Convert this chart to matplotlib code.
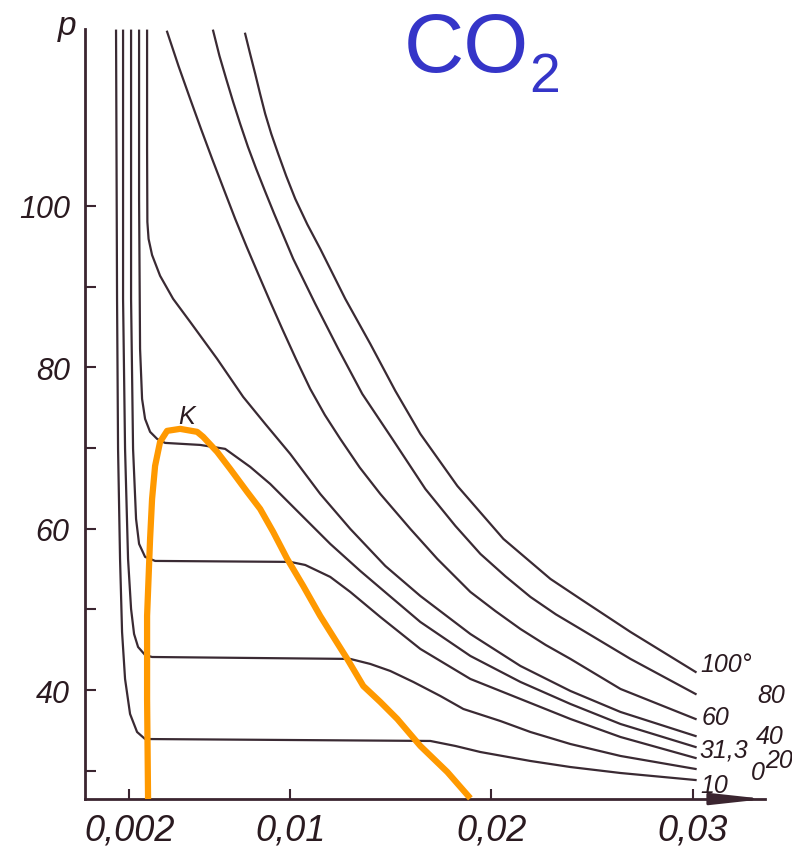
import matplotlib
matplotlib.use("Agg")
import matplotlib.pyplot as plt

# isotherms of CO2, v in units of 1e-3, p in atm
v_0 = [1.343, 1.393, 1.443, 1.542, 1.642, 1.791, 2.040, 2.388, 2.786, 16.965, 18.209, 19.453, 21.940, 23.930, 26.418, 30.149]
p_0 = [121.69, 88.48, 69.89, 56.26, 47.21, 41.39, 37.05, 34.82, 33.95, 33.71, 33.09, 32.34, 31.23, 30.48, 29.74, 28.87]

v_10 = [1.692, 1.692, 1.791, 1.940, 2.090, 2.239, 2.438, 2.786, 3.134, 12.985, 13.980, 14.975, 16.119, 17.463, 18.607, 20.448, 21.940, 23.930, 26.418, 30.149]
p_10 = [121.69, 88.48, 69.89, 56.26, 50.06, 46.96, 45.35, 44.36, 44.11, 43.87, 43.25, 42.38, 41.02, 39.28, 37.67, 36.18, 34.82, 33.33, 31.85, 30.24]

v_20 = [2.090, 2.090, 2.189, 2.338, 2.488, 2.786, 3.284, 10.000, 10.746, 11.990, 12.985, 14.478, 16.468, 18.955, 21.443, 23.930, 26.418, 30.149]
p_20 = [121.69, 88.48, 69.89, 61.21, 58.12, 56.51, 56.01, 55.89, 55.51, 54.03, 52.17, 49.07, 45.11, 41.39, 38.91, 36.43, 34.20, 31.60]

v_31 = [2.488, 2.488, 2.537, 2.637, 2.786, 3.035, 3.383, 3.781, 5.522, 6.766, 8.010, 9.005, 10.498, 11.990, 13.483, 14.826, 16.468, 18.955, 21.443, 23.930, 26.418, 30.149]
p_31 = [121.69, 100.87, 82.28, 76.08, 73.61, 72.00, 71.13, 70.63, 70.38, 69.89, 67.66, 65.55, 61.83, 58.12, 54.77, 51.92, 48.45, 44.24, 41.02, 38.29, 35.81, 32.96]

v_40 = [2.886, 2.886, 2.900, 2.960, 3.134, 3.532, 4.179, 5.025, 6.368, 7.662, 8.756, 10.000, 11.493, 12.985, 14.726, 16.468, 18.955, 21.443, 23.930, 26.418, 30.149]
p_40 = [121.69, 107.06, 98.0, 95.9, 93.9, 91.33, 88.48, 85.63, 81.04, 76.33, 72.99, 69.27, 64.31, 59.98, 55.39, 51.67, 46.96, 43.00, 39.90, 37.30, 34.32]

v_60 = [3.881, 4.450, 5.025, 5.570, 6.119, 6.690, 7.264, 7.830, 8.408, 9.000, 9.602, 10.290, 10.995, 11.720, 12.488, 13.450, 14.478, 15.970, 17.313, 18.955, 20.200, 21.443, 22.700, 23.930, 26.418, 30.149]
p_60 = [121.56, 117.30, 113.26, 109.50, 105.82, 102.10, 98.39, 94.95, 91.57, 88.15, 84.76, 81.00, 77.32, 74.10, 71.13, 67.60, 64.31, 59.98, 56.26, 52.17, 49.80, 47.58, 45.60, 43.87, 40.15, 36.43]

v_80 = [6.169, 6.480, 6.816, 7.160, 7.512, 7.900, 8.308, 8.750, 9.204, 10.149, 11.244, 12.388, 13.582, 15.075, 16.716, 18.209, 19.453, 20.700, 21.940, 23.200, 24.428, 26.915, 30.149]
p_80 = [121.69, 118.60, 115.74, 112.90, 110.16, 107.30, 104.58, 101.80, 99.01, 93.43, 87.86, 82.28, 76.70, 71.13, 64.93, 60.35, 56.88, 54.10, 51.55, 49.40, 47.58, 43.87, 39.53]

v_100 = [7.761, 8.010, 8.259, 8.500, 8.756, 9.060, 9.403, 9.800, 10.249, 10.850, 11.493, 12.736, 13.980, 15.224, 16.468, 18.308, 20.597, 22.935, 24.428, 26.915, 30.149]
p_100 = [121.31, 118.80, 116.36, 113.90, 111.40, 108.90, 106.44, 103.70, 100.87, 97.70, 94.67, 88.48, 82.90, 77.08, 71.75, 65.30, 58.74, 53.78, 51.30, 47.21, 42.26]

# saturation dome (orange overlay)
v_dome = [2.935, 2.886, 2.886, 3.035, 3.134, 3.284, 3.532, 3.881, 4.527, 5.373, 5.672, 6.368, 7.015, 7.861, 8.507,
          9.154, 9.851, 10.647, 11.493, 12.836, 13.632, 14.478, 15.323, 16.468, 17.811, 18.955]
p_dome = [26.52, 38.91, 49.19, 58.74, 63.69, 67.78, 70.76, 72.12, 72.37, 72.00, 71.38, 69.52, 67.41, 64.56, 62.45,
          59.60, 56.26, 52.91, 49.19, 43.87, 40.52, 38.54, 36.43, 33.09, 29.86, 26.60]

x_ticks = [0.002, 0.01, 0.02, 0.03]
x_labels = ['0,002', '0,01', '0,02', '0,03']
y_ticks = [40, 60, 80, 100]
y_minor = [30, 50, 70, 90]

curves = [(v_0, p_0), (v_10, p_10), (v_20, p_20), (v_31, p_31),
          (v_40, p_40), (v_60, p_60), (v_80, p_80), (v_100, p_100)]

ink = '#3b2530'
txt_col = '#2a1a20'
fam = ['Liberation Sans', 'DejaVu Sans']

W, H = 792, 853
fig = plt.figure(figsize=(W / 100, H / 100), dpi=100)
ax = fig.add_axes([85 / W, 53 / H, 680 / W, 770 / H])

for v, p in curves:
    ax.plot([x * 1e-3 for x in v], p, color='#3a2a33', lw=1.6, solid_joinstyle='round')

ax.plot([x * 1e-3 for x in v_dome], p_dome, color='#ff9900', lw=4.5, solid_capstyle='butt',
        solid_joinstyle='round', clip_on=False, zorder=5)

ax.set_xlim(-0.0002, 0.0336)
ax.set_ylim(26.52, 121.9)

for s in ['top', 'right']:
    ax.spines[s].set_visible(False)
for s in ['left', 'bottom']:
    ax.spines[s].set_color(ink)
    ax.spines[s].set_linewidth(2)

# arrow on the v axis
ax.annotate('', xy=(1.0, 0), xytext=(0.93, 0), xycoords='axes fraction',
            arrowprops=dict(arrowstyle='-|>,head_length=3.2,head_width=0.35', color=ink, lw=2,
                            shrinkA=0, shrinkB=0))

ax.set_xticks(x_ticks)
ax.set_xticklabels(x_labels, fontsize=26, style='italic', family=fam, color=txt_col)
ax.set_yticks(y_ticks)
ax.set_yticklabels([str(t) for t in y_ticks], fontsize=22, style='italic', family=fam, color=txt_col)
ax.set_yticks(y_minor, minor=True)
ax.tick_params(axis='x', direction='in', length=7, width=1.5, color=ink, pad=10)
ax.tick_params(axis='y', which='both', direction='in', length=8, width=1.5, color=ink, pad=11)

# labels
fig.text(67 / W, 1 - 27 / H, 'p', fontsize=24, style='italic', family=fam, color=txt_col,
         ha='center', va='center')
fig.text(187 / W, 1 - 417 / H, 'K', fontsize=18, style='italic', family=fam, color=txt_col,
         ha='center', va='center')

iso_labels = [('100°', 700, 665), ('80', 757, 696), ('60', 702, 718), ('40', 756, 737),
              ('31,3', 699, 751), ('20', 765, 761), ('0', 751, 773), ('10', 700, 786)]
for txt, px, py in iso_labels:
    fig.text(px / W, 1 - py / H, txt, fontsize=18, style='italic', family=fam, color=txt_col,
             ha='left', va='center')

fig.text(404 / W, 1 - 72 / H, 'CO', fontsize=60, family=fam, color='#3535c8',
         ha='left', va='baseline')
fig.text(529 / W, 1 - 92 / H, '2', fontsize=40, family=fam, color='#3535c8',
         ha='left', va='baseline')

fig.savefig('out.png', dpi=100)
